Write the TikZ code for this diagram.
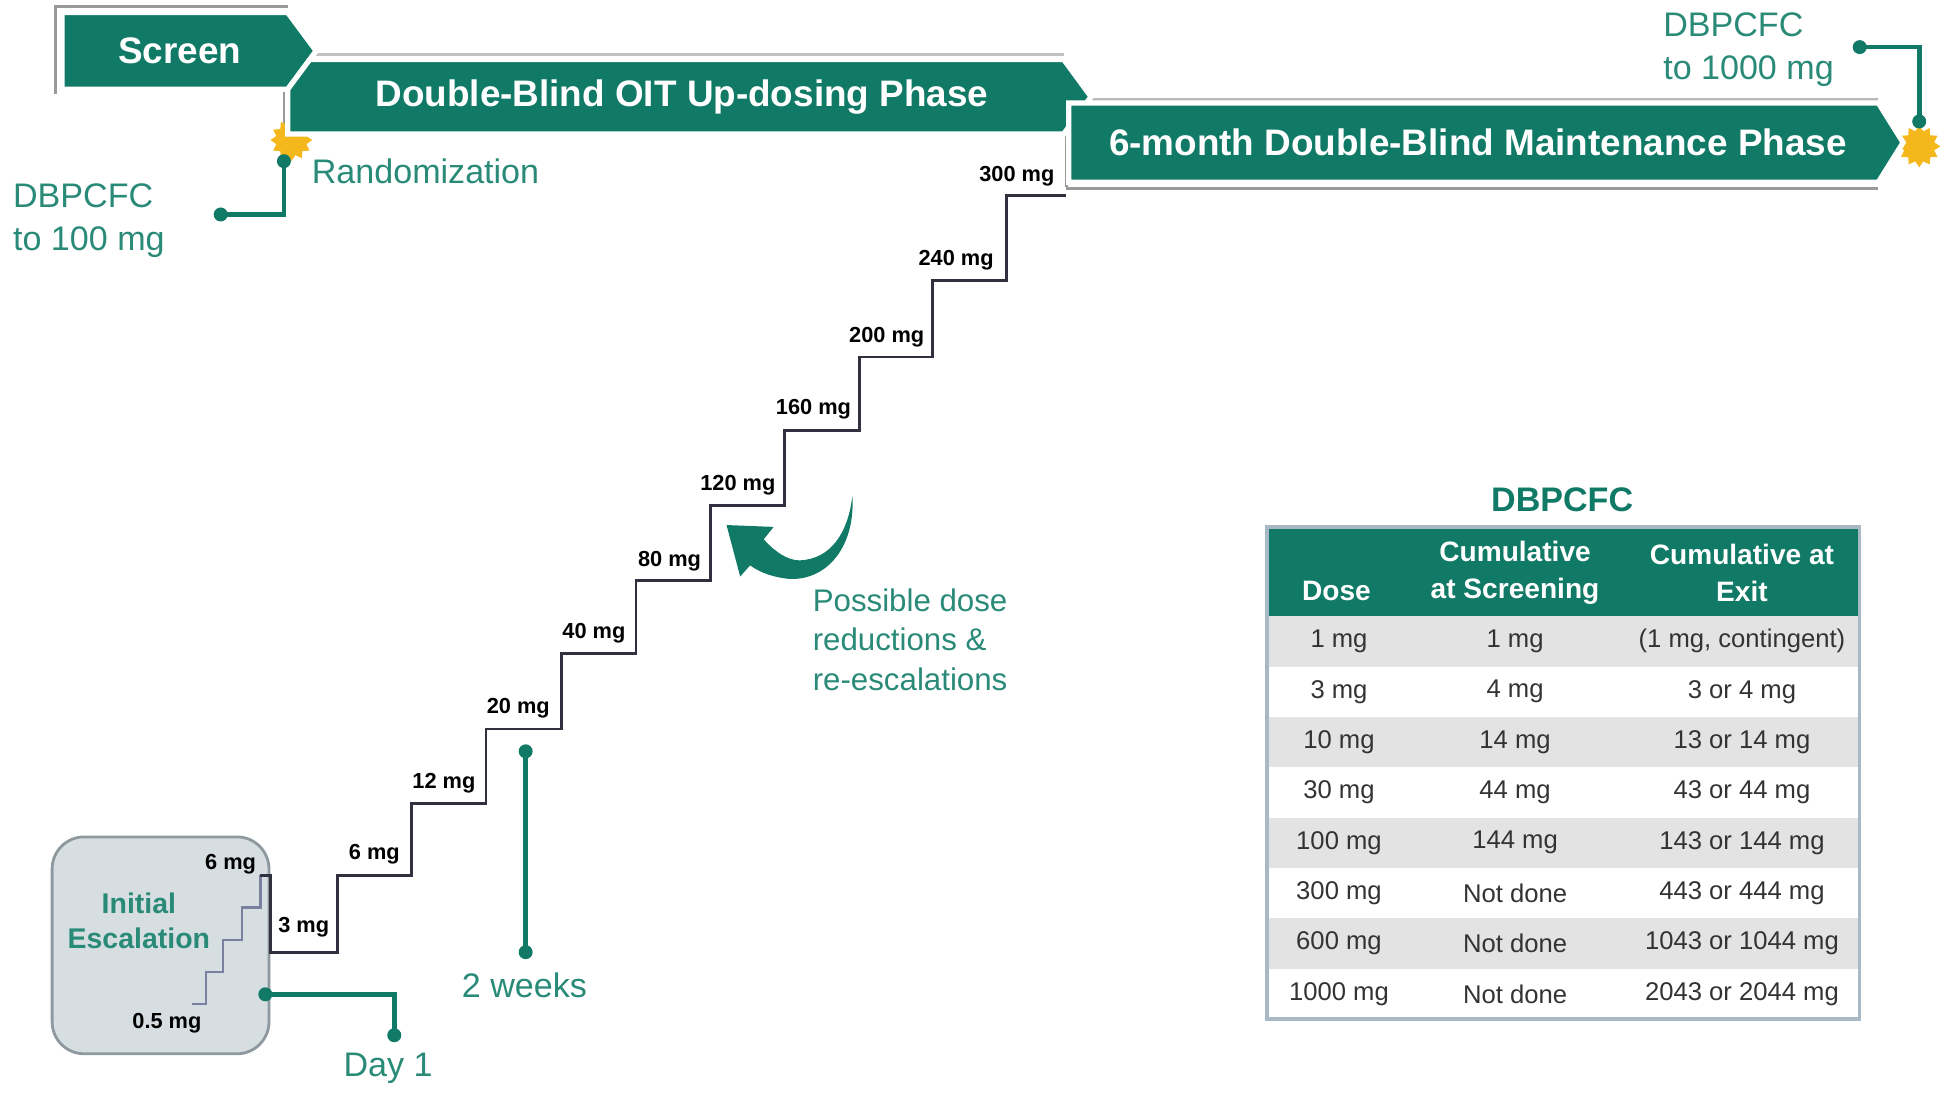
\documentclass[tikz,border=0pt]{standalone}
\usepackage{fontspec}
\setmainfont{Liberation Sans}
\usetikzlibrary{shapes.geometric}
\definecolor{bgreen}{HTML}{107A66}
\definecolor{tealtxt}{HTML}{2A8A78}
\definecolor{gold}{HTML}{F4B81C}
\definecolor{stairc}{HTML}{30303E}
\definecolor{lstair}{HTML}{7B80A0}
\definecolor{boxfill}{HTML}{D6DEE2}
\definecolor{boxline}{HTML}{8E999F}
\definecolor{rowgray}{HTML}{E3E3E3}
\definecolor{tblborder}{HTML}{A8B8C4}
\definecolor{shadowc}{HTML}{9A9A9A}
\definecolor{celltxt}{HTML}{333333}
\begin{document}
\begin{tikzpicture}[x=0.012398cm,y=-0.012398cm,
  banner/.style={fill=bgreen, draw=white, line width=1.5pt},
  bannertext/.style={text=white, font=\bfseries\fontsize{10.5}{12}\selectfont, inner sep=0},
  dose/.style={font=\bfseries\fontsize{6.2}{7}\selectfont, anchor=east, inner sep=0, text=black},
  tlabel/.style={text=tealtxt, font=\fontsize{9.7}{12.5}\selectfont, inner sep=0},
  conn/.style={draw=bgreen, line width=1.3pt},
  dot/.style={circle, fill=bgreen, inner sep=0, minimum size=0.14cm},
  burst/.style={star, star points=12, star point ratio=1.35, fill=gold, inner sep=0, minimum size=0.42cm},
  cell/.style={text=celltxt, font=\fontsize{7.3}{9}\selectfont, inner sep=0},
  headcell/.style={text=white, font=\bfseries\fontsize{8}{10.6}\selectfont, align=center, inner sep=0},
  escbox/.style={draw=boxline, fill=boxfill, line width=0.8pt, rounded corners=0.32cm, minimum width=2.17cm, minimum height=2.17cm, inner sep=0}
]
\useasboundingbox (0,0) rectangle (1568,882);

% gray shadow edges of the banners
\draw[shadowc, line width=0.8pt] (45,76) -- (45,5) -- (232,5);
\draw[shadowc!60, line width=0.8pt] (232,44) -- (858,44);
\draw[shadowc, line width=0.8pt] (229,72) -- (229,108);
\draw[shadowc!70, line width=0.8pt] (862,80) -- (1515,80);
\draw[shadowc, line width=0.8pt] (860,151) -- (860,83);
\draw[shadowc, line width=0.8pt] (860,152) -- (1515,152);

% starbursts
\node[burst] (s1) at (235,113) {};
\node[burst] (s2) at (1548,118) {};

% banners
\path[banner] (232,48) -- (858,48) -- (880,78) -- (858,108) -- (232,108) -- cycle;
\path[banner] (50,10) -- (232,10) -- (255,41) -- (232,72) -- (50,72) -- cycle;
\path[banner] (862,83) -- (1515,83) -- (1535,115) -- (1515,147) -- (862,147) -- cycle;
\node[bannertext] (tscreen) at (145,41) {Screen};
\node[bannertext] (tup) at (550,78) {Double-Blind OIT Up-dosing Phase};
\node[bannertext] (tmain) at (1192,115) {6-month Double-Blind Maintenance Phase};

% randomization connector
\node[dot] (r1) at (229,130) {};
\node[dot] (r2) at (178,173) {};
\draw[conn] (r1.center) |- (r2.center);
\node[tlabel, anchor=west] (trand) at (251,138) {Randomization};
\node[tlabel, anchor=west, align=left] (tdb1) at (10,178) {DBPCFC\\to 100 mg};

% right connector
\node[dot] (e1) at (1500,38) {};
\node[dot] (e2) at (1548,98) {};
\draw[conn] (e1.center) -| (e2.center);
\node[tlabel, anchor=west, align=left, font=\fontsize{9.7}{12.3}\selectfont] (tdb2) at (1341,40) {DBPCFC\\to 1000 mg};

% initial escalation box
\node[escbox] (esc) at (129.5,762.5) {};
\node[text=tealtxt, font=\bfseries\fontsize{8.1}{9.9}\selectfont, align=center, inner sep=0] (tesc) at (112,743) {Initial\\Escalation};

% stairs
\draw[lstair, line width=0.7pt] (155,810) -| (166,784) -| (180,758) -| (195,732) -| (210,706);
\draw[stairc, line width=0.8pt] (210,706) -- (218,706) -- (218,768) -| (272,706) -| (332,648) -| (392,588) -| (453,527) -| (513,468) -| (573,408) -| (633,347) -| (693,288) -| (752,226) -| (812,158) -- (860,158);

% dose labels
\node[dose] (l05) at (163,825) {0.5 mg};
\node[dose] (l6a) at (207,697) {6 mg};
\node[dose] (l3) at (266,748) {3 mg};
\node[dose] (l6) at (323,689) {6 mg};
\node[dose] (l12) at (384,632) {12 mg};
\node[dose] (l20) at (444,571) {20 mg};
\node[dose] (l40) at (505,511) {40 mg};
\node[dose] (l80) at (566,453) {80 mg};
\node[dose] (l120) at (626,391) {120 mg};
\node[dose] (l160) at (687,330) {160 mg};
\node[dose] (l200) at (746,272) {200 mg};
\node[dose] (l240) at (802,210) {240 mg};
\node[dose] (l300) at (851,142) {300 mg};

% day 1 connector
\node[dot] (d1a) at (214,802) {};
\node[dot] (d1b) at (318,835) {};
\draw[conn] (d1a.center) -| (d1b.center);
\node[tlabel] (tday) at (313,862) {Day 1};

% 2 weeks connector
\node[dot] (w1) at (424,606) {};
\node[dot] (w2) at (424,768) {};
\draw[conn] (w1.center) -- (w2.center);
\node[tlabel] (tweeks) at (423,795) {2 weeks};

% curved arrow
\fill[bgreen] (687.5,400) .. controls (690,440) and (668,468) .. (637,467)
  .. controls (625,466) and (613,462) .. (605,456) -- (597,465) -- (586,423.5) -- (624,425) -- (616,435)
  .. controls (625,445) and (635,452) .. (645,452) .. controls (670,451) and (684,430) .. (687.5,400) -- cycle;
\node[text=tealtxt, font=\fontsize{8.9}{11.3}\selectfont, align=left, anchor=west, inner sep=0] (tposs) at (655,516) {Possible dose\\reductions \&\\re-escalations};

% table
\node[text=bgreen, font=\bfseries\fontsize{9.7}{12}\selectfont, inner sep=0] (ttitle) at (1260,403) {DBPCFC};
\fill[bgreen] (1022,425) rectangle (1500,497);
\foreach \i in {0,2,4,6} \fill[rowgray] (1022,{497+40.625*\i}) rectangle (1500,{497+40.625*(\i+1)});
\draw[tblborder, line width=1pt] (1022,425) rectangle (1500,822);
\node[headcell] (h1) at (1078,477) {Dose};
\node[headcell] (h2) at (1222,462) {Cumulative\\at Screening};
\node[headcell] (h3) at (1405,462) {Cumulative at\\Exit};
\foreach \a/\b/\c [count=\i from 0] in {1 mg/1 mg/(1 mg{,} contingent), 3 mg/4 mg/3 or 4 mg, 10 mg/14 mg/13 or 14 mg, 30 mg/44 mg/43 or 44 mg, 100 mg/144 mg/143 or 144 mg, 300 mg/Not done/443 or 444 mg, 600 mg/Not done/1043 or 1044 mg, 1000 mg/Not done/2043 or 2044 mg} {
  \node[cell] (ca\i) at (1080,{517.3+40.625*\i}) {\a};
  \node[cell] (cb\i) at (1222,{517.3+40.625*\i}) {\b};
  \node[cell] (cc\i) at (1405,{517.3+40.625*\i}) {\c};
}
\end{tikzpicture}
\end{document}
